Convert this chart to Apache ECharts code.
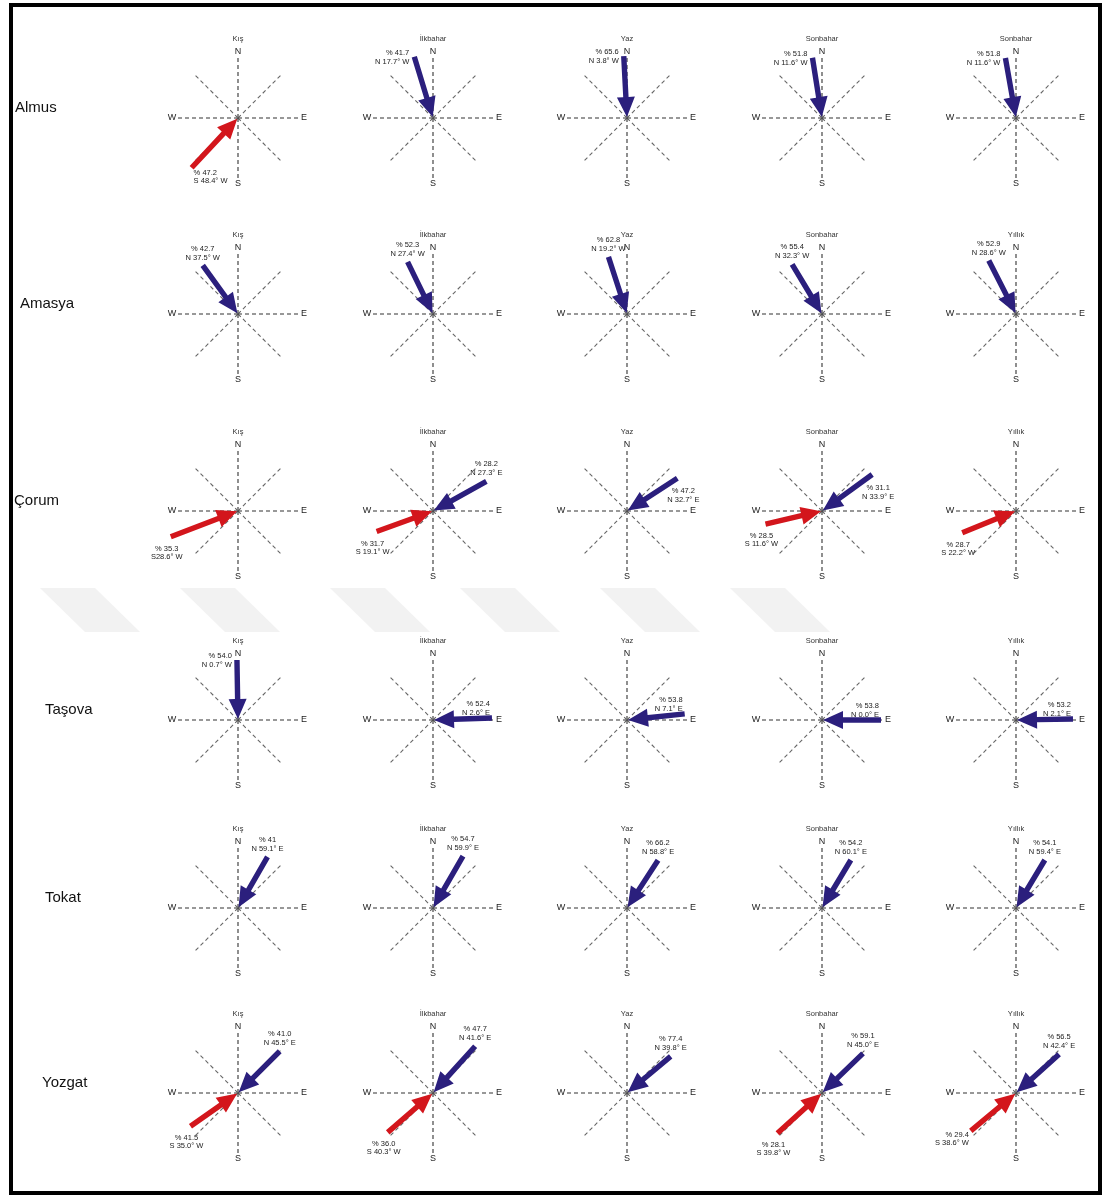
<!DOCTYPE html>
<html>
<head>
<meta charset="utf-8">
<script src="https://cdn.jsdelivr.net/npm/echarts@6/dist/echarts.min.js"></script>
<style>
  html, body { margin: 0; padding: 0; background: #fff; }
  #main { width: 1105px; height: 1198px; }
</style>
</head>
<body>
<div id="main"></div>
<script>
// istasyonlar ve mevsim başlıkları
const stations = ['Almus', 'Amasya', 'Çorum', 'Taşova', 'Tokat', 'Yozgat']
const seasonTitles = [
  ['Kış', 'İlkbahar', 'Yaz', 'Sonbahar', 'Sonbahar'],
  ['Kış', 'İlkbahar', 'Yaz', 'Sonbahar', 'Yıllık'],
  ['Kış', 'İlkbahar', 'Yaz', 'Sonbahar', 'Yıllık'],
  ['Kış', 'İlkbahar', 'Yaz', 'Sonbahar', 'Yıllık'],
  ['Kış', 'İlkbahar', 'Yaz', 'Sonbahar', 'Yıllık'],
  ['Kış', 'İlkbahar', 'Yaz', 'Sonbahar', 'Yıllık']
]
const compassLetters = ['N', 'E', 'S', 'W']
const compassLetterAngles = [0, 90, 180, 270]
const compassSpokes = [0, 45, 90, 135, 180, 225, 270, 315]

// oklar: [sütun, tür (b=mavi, r=kırmızı), yön açısı (kuyruk, K'den saat yönü), uzunluk, yüzde, yön metni, etiket yeri]
const arrowsAlmus = [
  [0, 'r', 223, 68, '% 47.2', 'S 48.4° W', 'lowerRight'],
  [1, 'b', 343, 64, '% 41.7', 'N 17.7° W', 'left'],
  [2, 'b', 357, 62, '% 65.6', 'N 3.8° W', 'left'],
  [3, 'b', 351, 61, '% 51.8', 'N 11.6° W', 'left'],
  [4, 'b', 350, 61, '% 51.8', 'N 11.6° W', 'left']
]
const arrowsAmasya = [
  [0, 'b', 324, 60, '% 42.7', 'N 37.5° W', 'above'],
  [1, 'b', 334, 58, '% 52.3', 'N 27.4° W', 'above'],
  [2, 'b', 342, 60, '% 62.8', 'N 19.2° W', 'above'],
  [3, 'b', 329, 58, '% 55.4', 'N 32.3° W', 'above'],
  [4, 'b', 333, 60, '% 52.9', 'N 28.6° W', 'above']
]
const arrowsCorum = [
  [0, 'r', 249, 72, '% 35.3', 'S28.6° W', 'below'],
  [1, 'r', 250, 60, '% 31.7', 'S 19.1° W', 'below'],
  [1, 'b', 61, 61, '% 28.2', 'N 27.3° E', 'above'],
  [2, 'b', 57, 60, '% 47.2', 'N 32.7° E', 'belowRight'],
  [3, 'b', 54, 62, '% 31.1', 'N 33.9° E', 'belowRight'],
  [3, 'r', 257, 58, '% 28.5', 'S 11.6° W', 'below'],
  [4, 'r', 248, 58, '% 28.7', 'S 22.2° W', 'below']
]
const arrowsTasova = [
  [0, 'b', 359, 60, '% 54.0', 'N 0.7° W', 'left'],
  [1, 'b', 88, 59, '% 52.4', 'N 2.6° E', 'aboveE'],
  [2, 'b', 84, 58, '% 53.8', 'N 7.1° E', 'aboveE'],
  [3, 'b', 90, 59, '% 53.8', 'N 0.0° E', 'aboveE'],
  [4, 'b', 89, 57, '% 53.2', 'N 2.1° E', 'aboveE']
]
const arrowsTokat = [
  [0, 'b', 30, 59, '% 41', 'N 59.1° E', 'above'],
  [1, 'b', 30, 60, '% 54.7', 'N 59.9° E', 'above'],
  [2, 'b', 33, 57, '% 66.2', 'N 58.8° E', 'above'],
  [3, 'b', 31, 56, '% 54.2', 'N 60.1° E', 'above'],
  [4, 'b', 31, 56, '% 54.1', 'N 59.4° E', 'above']
]
const arrowsYozgat = [
  [0, 'b', 45, 59, '% 41.0', 'N 45.5° E', 'above'],
  [0, 'r', 235, 58, '% 41.5', 'S 35.0° W', 'below'],
  [1, 'b', 42, 63, '% 47.7', 'N 41.6° E', 'above'],
  [1, 'r', 229, 60, '% 36.0', 'S 40.3° W', 'below'],
  [2, 'b', 50, 57, '% 77.4', 'N 39.8° E', 'above'],
  [3, 'b', 46, 57, '% 59.1', 'N 45.0° E', 'above'],
  [3, 'r', 228, 60, '% 28.1', 'S 39.8° W', 'below'],
  [4, 'b', 48, 58, '% 56.5', 'N 42.4° E', 'above'],
  [4, 'r', 230, 59, '% 29.4', 'S 38.6° W', 'lowerLeft']
]
const arrowsByStation = [arrowsAlmus, arrowsAmasya, arrowsCorum, arrowsTasova, arrowsTokat, arrowsYozgat]

// yerleşim
const colX = [238, 433, 627, 822, 1016]
const rowY = [118, 314, 511, 720, 908, 1093]
const rowNameX = [15, 20, 14, 45, 45, 42]
const HALF = 70
const arrowColors = { b: '#2b1f7d', r: '#d3161c' }
// etiket yerleşimi: [dx, satır1 dy, satır2 dy, hizalama]
const labelPlaces = {
  left: [-5, -4, 5, 'right'],
  above: [0, -17, -8, 'center'],
  aboveE: [-2, -14, -5, 'right'],
  below: [-4, 12, 20, 'center'],
  belowRight: [6, 13, 22, 'center'],
  lowerRight: [2, 5, 13, 'left'],
  lowerLeft: [-2, 4, 12, 'right']
}
const smallFont = '7.5px "Liberation Sans", Arial, sans-serif'

const chart = echarts.init(document.getElementById('main'))

function polar(angleDeg, r) {
  const a = angleDeg * Math.PI / 180
  return [r * Math.sin(a), r * Math.cos(a)]
}

function renderSpoke(params, api) {
  const ang = compassSpokes[params.dataIndex]
  const main = ang % 90 === 0
  const p0 = api.coord([0, 0])
  const p1 = api.coord(polar(ang, main ? 60 : 63))
  return {
    type: 'line',
    shape: { x1: p0[0], y1: p0[1], x2: p1[0], y2: p1[1] },
    style: { stroke: main ? '#333' : '#666', lineWidth: 1.1, lineDash: [4, 3] }
  }
}

function renderLetter(params, api) {
  const ang = compassLetterAngles[params.dataIndex]
  const p = api.coord(polar(ang, 66))
  return {
    type: 'text',
    x: p[0], y: p[1],
    style: {
      text: compassLetters[params.dataIndex],
      align: 'center', verticalAlign: 'middle',
      font: '9px "Liberation Sans", Arial, sans-serif',
      fill: '#222'
    }
  }
}

function makeArrowRenderer(list) {
  return function (params, api) {
    const a = list[params.dataIndex]
    const tail = api.coord(polar(a[2], a[3]))
    const tip = api.coord(polar(a[2], 1))
    const dx = tip[0] - tail[0], dy = tip[1] - tail[1]
    const len = Math.sqrt(dx * dx + dy * dy)
    const ux = dx / len, uy = dy / len
    const nx = -uy, ny = ux
    const H = 20, W = 9, S = 2.7
    const neck = [tip[0] - ux * H, tip[1] - uy * H]
    const pts = [
      [tail[0] + nx * S, tail[1] + ny * S],
      [neck[0] + nx * S, neck[1] + ny * S],
      [neck[0] + nx * W, neck[1] + ny * W],
      tip,
      [neck[0] - nx * W, neck[1] - ny * W],
      [neck[0] - nx * S, neck[1] - ny * S],
      [tail[0] - nx * S, tail[1] - ny * S]
    ]
    const pl = labelPlaces[a[6]]
    return {
      type: 'group',
      children: [
        { type: 'polygon', shape: { points: pts }, style: { fill: arrowColors[a[1]] } },
        {
          type: 'text', x: tail[0] + pl[0], y: tail[1] + pl[1],
          style: { text: a[4], align: pl[3], verticalAlign: 'middle', font: smallFont, fill: '#222' }
        },
        {
          type: 'text', x: tail[0] + pl[0], y: tail[1] + pl[2],
          style: { text: a[5], align: pl[3], verticalAlign: 'middle', font: smallFont, fill: '#222' }
        }
      ]
    }
  }
}

const grid = [], xAxis = [], yAxis = [], series = []
const graphic = []

// çerçeve
graphic.push({
  type: 'rect', shape: { x: 11, y: 5, width: 1089, height: 1188 },
  style: { fill: 'none', stroke: '#000', lineWidth: 4 }, z: 10
})
// soluk filigran şeritleri
;[40, 180, 330, 460, 600, 730].forEach(x0 => {
  graphic.push({
    type: 'polygon',
    shape: { points: [[x0, 588], [x0 + 55, 588], [x0 + 100, 632], [x0 + 45, 632]] },
    style: { fill: '#f2f2f2' }, z: -10
  })
})

stations.forEach((name, r) => {
  graphic.push({
    type: 'text', x: rowNameX[r], y: rowY[r] - 10,
    style: { text: name, align: 'left', verticalAlign: 'middle', font: '15px "Liberation Sans", Arial, sans-serif', fill: '#111' }
  })
  const arrows = arrowsByStation[r]
  for (let c = 0; c < 5; c++) {
    const idx = r * 5 + c
    graphic.push({
      type: 'text', x: colX[c], y: rowY[r] - 79,
      style: { text: seasonTitles[r][c], align: 'center', verticalAlign: 'middle', font: smallFont, fill: '#333' }
    })
    grid.push({ left: colX[c] - HALF, top: rowY[r] - HALF, width: HALF * 2, height: HALF * 2 })
    xAxis.push({ gridIndex: idx, type: 'value', min: -HALF, max: HALF, show: false })
    yAxis.push({ gridIndex: idx, type: 'value', min: -HALF, max: HALF, show: false })
    series.push({
      type: 'custom', xAxisIndex: idx, yAxisIndex: idx, silent: true,
      data: compassSpokes.map(a => [a]), renderItem: renderSpoke
    })
    series.push({
      type: 'custom', xAxisIndex: idx, yAxisIndex: idx, silent: true,
      data: compassLetterAngles.map(a => [a]), renderItem: renderLetter
    })
    const cellArrows = arrows.filter(a => a[0] === c)
    if (cellArrows.length) {
      series.push({
        type: 'custom', xAxisIndex: idx, yAxisIndex: idx, silent: true, z: 5,
        data: cellArrows.map(a => [a[2], a[3]]),
        renderItem: makeArrowRenderer(cellArrows)
      })
    }
  }
})

chart.setOption({
  backgroundColor: '#fff',
  animation: false,
  grid, xAxis, yAxis, series, graphic
})
</script>
</body>
</html>
